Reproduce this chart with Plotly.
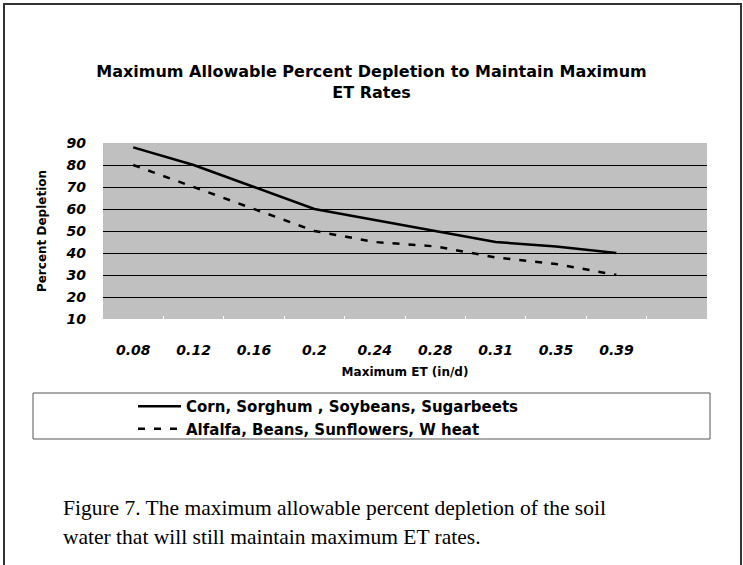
import plotly.graph_objects as go

et_rates = ["0.08", "0.12", "0.16", "0.2", "0.24", "0.28", "0.31", "0.35", "0.39"]
corn_group = [88, 80, 70, 60, 55, 50, 45, 43, 40]
alfalfa_group = [80, 70, 60, 50, 45, 43, 38, 35, 30]
series_names = ["Corn, Sorghum , Soybeans, Sugarbeets", "Alfalfa, Beans, Sunflowers, W heat"]
title_text = "Maximum Allowable Percent Depletion to Maintain Maximum<br>ET Rates"
x_title = "Maximum ET (in/d)"
y_title = "Percent Depletion"
caption_lines = ["Figure 7. The maximum allowable percent depletion of the soil",
                 "water that will still maintain maximum ET rates."]

W, H = 743, 565
L, R, T, B = 103, 707, 143, 319  # plot area in px

def px(x):
    return (x - L) / (R - L)

def py(y):
    return (B - y) / (B - T)

SANS = "DejaVu Sans, Liberation Sans, Arial"
SERIF = "Liberation Serif, Times New Roman"

fig = go.Figure()
fig.add_trace(go.Scatter(x=et_rates, y=corn_group, mode="lines", name=series_names[0],
                         line=dict(color="black", width=2.5)))
fig.add_trace(go.Scatter(x=et_rates, y=alfalfa_group, mode="lines", name=series_names[1],
                         line=dict(color="black", width=2.5, dash="7px,9px")))

shapes = [
    # outer frame
    dict(type="rect", xref="paper", yref="paper", x0=px(4), x1=px(741), y0=py(700), y1=py(4),
         line=dict(color="#333333", width=2), fillcolor="rgba(0,0,0,0)", layer="below"),
    # legend box
    dict(type="rect", xref="paper", yref="paper", x0=px(33), x1=px(710), y0=py(439), y1=py(393),
         line=dict(color="#555555", width=1), fillcolor="white", layer="below"),
]

annotations = [
    dict(text=caption_lines[0], xref="paper", yref="paper", x=px(61), y=py(508), xanchor="left",
         yanchor="middle", showarrow=False, font=dict(family=SERIF, size=21.5, color="black")),
    dict(text=caption_lines[1], xref="paper", yref="paper", x=px(61), y=py(537), xanchor="left",
         yanchor="middle", showarrow=False, font=dict(family=SERIF, size=21.5, color="black")),
]

fig.update_layout(
    width=W, height=H,
    margin=dict(l=L, r=W - R, t=T, b=H - B, pad=0),
    paper_bgcolor="white",
    plot_bgcolor="#C0C0C0",
    font=dict(family=SANS, color="black"),
    title=dict(text=title_text, x=0.5, xref="container", xanchor="center",
               y=1 - 77 / H, yref="container", yanchor="middle",
               font=dict(size=16, family=SANS, weight="bold", color="black")),
    xaxis=dict(type="category", range=[-0.5, 9.5], showgrid=False, zeroline=False, showline=False,
               ticks="inside", tickson="boundaries", tickcolor="white", ticklen=3,
               tickfont=dict(size=14, weight="bold", style="italic"), ticklabelstandoff=21,
               title=dict(text=x_title, font=dict(size=12, weight="bold"), standoff=10)),
    yaxis=dict(range=[10, 90], dtick=10, tick0=10, showgrid=True, gridcolor="black", gridwidth=1,
               zeroline=False, showline=False, ticks="",
               tickfont=dict(size=14, weight="bold", style="italic"), ticklabelstandoff=16,
               title=dict(text=y_title, font=dict(size=12, weight="bold"), standoff=16)),
    showlegend=True,
    legend=dict(x=px(133), y=py(390), xanchor="left", yanchor="top", bgcolor="rgba(0,0,0,0)",
                borderwidth=0, font=dict(size=15, weight="bold"), itemwidth=43,
                tracegroupgap=0, itemclick=False),
    shapes=shapes,
    annotations=annotations,
)

fig.write_html("out.html", config={"displayModeBar": False},
               post_script="document.body.style.margin='0';")
